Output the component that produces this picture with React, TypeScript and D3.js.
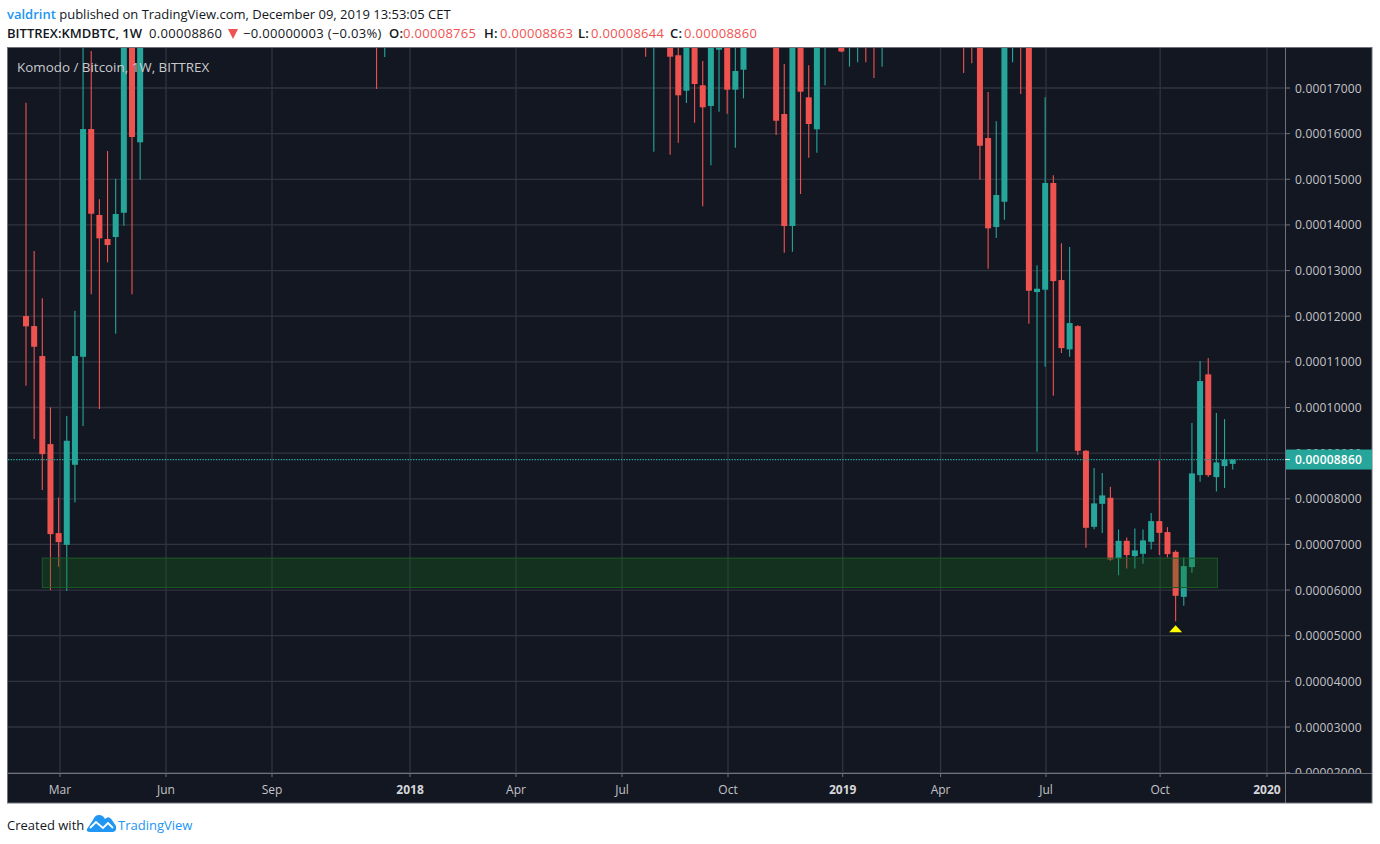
import React from "react";
import * as d3 from "d3";

// Prices are in 1e-8 BTC. Values above the visible pane are estimates for candles cut off by the top edge.
const weeks = [0,1,2,3,4,5,6,7,8,9,10,11,12,13,14,43,44,76,77,79,80,81,82,83,84,85,86,87,88,92,93,94,95,96,97,98,100,101,102,103,104,105,115,116,117,118,119,120,121,122,123,124,125,126,127,128,129,130,131,132,133,134,135,136,137,138,139,140,141,142,143,144,145,146,147,148];
const opens = [12003,11784,11127,9198,7248,6991,8745,11111,16101,14217,13691,13735,14267,18600,15810,18600,18100,18500,18000,18300,17717,16941,18200,17059,16606,17839,18200,16963,17401,18400,16430,13976,18300,16796,16095,18000,18200,18000,18000,18400,18300,18000,18300,18300,18400,15904,13954,14508,18000,18300,18500,12529,12580,14918,12792,11274,11784,9052,7386,7890,8022,6693,7079,6744,6794,7057,7511,7270,6838,5852,6503,8519,10726,8475,8716,8765];
const highs = [16678,13428,12391,10003,8030,9812,12120,18600,17811,14561,15619,15012,18800,19000,19200,19000,18800,18900,18700,18600,18200,18500,18400,17592,18400,18300,18500,18200,18500,18600,17526,18600,18500,17497,18400,18400,18400,18400,18400,18600,18500,18400,18600,18600,18600,16912,16270,18700,18500,18600,18700,13115,16796,15087,13597,13516,11806,9067,8672,8563,8263,7329,7154,7351,7329,7686,8841,7379,6875,6715,9658,11017,11083,9878,9746,8863];
const lows = [10476,9308,8190,5999,6509,5983,7921,9593,12479,9965,13180,11615,13982,12479,14990,16978,17679,17686,15604,15538,15801,16671,16240,14407,15306,16481,16437,15692,16774,15970,13391,13412,14677,15473,15582,17059,17782,17467,17563,17563,17219,17467,17329,17541,14990,13040,13713,14114,17563,16869,11835,9030,10892,10257,11193,11111,8957,6926,7335,7248,6641,6327,6474,6474,6575,6891,6766,6715,5319,5655,6378,8372,8475,8162,8234,8644];
const closes = [11778,11331,8979,7226,7051,9271,11127,16101,14245,13706,13559,14239,18500,15926,19000,18200,18500,18100,18400,17686,16840,18300,17088,16577,18100,18100,16963,17373,18200,16283,13976,18400,16919,16211,18200,18300,17800,18200,18300,18000,17900,18300,17900,17900,15735,13925,14655,18500,18300,17900,12558,12602,14918,12770,11302,11850,9052,7364,7899,8074,6671,7079,6766,6869,7088,7511,7254,6788,5874,6525,8556,10579,8519,8797,8860,8860];

const priceTicks = [17000,16000,15000,14000,13000,12000,11000,10000,9000,8000,7000,6000,5000,4000,3000,2000];
const timeLabels = ["Mar","Jun","Sep","2018","Apr","Jul","Oct","2019","Apr","Jul","Oct","2020"];
const timeWeeks = [4.17,17.17,30.17,47.1,60.1,73.1,86.1,100.17,112.17,125.1,139.1,152.2];

const lastPrice = 8860;
const zoneTop = 6700;
const zoneBottom = 6055;
const zoneStartWeek = 2;
const zoneEndWeek = 146;
const markerWeek = 141;
const markerPrice = 5232;

const UP = "#26a69a";
const DOWN = "#ef5350";
const BG = "#131722";
const GRID = "#30343f";
const FRAME = "#6f727c";
const TXT = "#c3c4c8";
const INK = "#131722";
const FONT = "'Open Sans', sans-serif";

const L = 8, R = 1285, T = 48, B = 773, OUTER_R = 1372, OUTER_B = 803;
const fmt = (v: number) => (v / 1e8).toFixed(8);

export default function App() {
  const x = d3.scaleLinear().domain([0, 148]).range([26, 1232.7]);
  const y = d3.scaleLinear().domain([17000, 3000]).range([88, 727]);
  const candles = weeks.map((w, i) => ({ w, o: opens[i], h: highs[i], l: lows[i], c: closes[i] }));
  const bodyW = 6;
  return (
    <svg width={1380} height={844} style={{ position: "absolute", left: 0, top: 0, background: "#fff", fontFamily: FONT }}>
      <defs>
        <clipPath id="pane"><rect x={L} y={T} width={R - L} height={B - T} /></clipPath>
        <clipPath id="axis"><rect x={R} y={T} width={OUTER_R - R} height={B - T} /></clipPath>
      </defs>
      <text x={7} y={19} fontSize={13}>
        <tspan fill="#2196f3" fontWeight={600}>valdrint</tspan>
        <tspan fill={INK}> published on TradingView.com, December 09, 2019 13:53:05 CET</tspan>
      </text>
      <text x={7} y={38} fontSize={13} fill={INK} fontWeight={600}>BITTREX:KMDBTC, 1W</text>
      <g fontSize={13} letterSpacing={0.3}>
        <text x={149} y={38} fill={INK}>0.00008860</text>
        <text x={243} y={38} fill={INK}>−0.00000003 (−0.03%)</text>
        <text x={389} y={38} fill={INK} fontWeight={600}>O:</text>
        <text x={403} y={38} fill={DOWN}>0.00008765</text>
        <text x={484} y={38} fill={INK} fontWeight={600}>H:</text>
        <text x={500} y={38} fill={DOWN}>0.00008863</text>
        <text x={578} y={38} fill={INK} fontWeight={600}>L:</text>
        <text x={591} y={38} fill={DOWN}>0.00008644</text>
        <text x={670} y={38} fill={INK} fontWeight={600}>C:</text>
        <text x={684} y={38} fill={DOWN}>0.00008860</text>
      </g>
      <path d="M228 29 L238 29 L233 39 Z" fill={DOWN} />

      <rect x={7.5} y={47.5} width={OUTER_R - 7.5} height={OUTER_B - 47.5} fill={BG} stroke={FRAME} />

      <g clipPath="url(#pane)">
        {priceTicks.map((p) => (
          <line key={p} x1={L} x2={R} y1={y(p)} y2={y(p)} stroke={GRID} strokeWidth={1.3} />
        ))}
        {timeWeeks.map((w, i) => (
          <line key={i} x1={x(w)} x2={x(w)} y1={T} y2={B} stroke={GRID} strokeWidth={1.3} />
        ))}
        {candles.map((d) => {
          const col = d.c >= d.o ? UP : DOWN;
          const top = y(Math.max(d.o, d.c));
          const bot = y(Math.min(d.o, d.c));
          return (
            <g key={d.w}>
              <line x1={x(d.w)} x2={x(d.w)} y1={y(d.h)} y2={y(d.l)} stroke={col} strokeWidth={1.1} />
              <rect x={x(d.w) - bodyW / 2} y={top} width={bodyW} height={Math.max(bot - top, 1)} fill={col} />
            </g>
          );
        })}
        <rect
          x={x(zoneStartWeek)}
          y={y(zoneTop)}
          width={x(zoneEndWeek) - x(zoneStartWeek) + 1}
          height={y(zoneBottom) - y(zoneTop)}
          fill="#166a18"
          fillOpacity={0.3}
          stroke="#1a5c25"
          strokeWidth={1}
        />
        <line x1={L} x2={R} y1={y(lastPrice)} y2={y(lastPrice)} stroke={UP} strokeWidth={1.2} strokeDasharray="1.4 1.3" />
        <path d={`M${x(markerWeek)} ${y(markerPrice)} l6.5 7 h-13 Z`} fill="#ffff00" />
        <text x={17} y={72} fontSize={13.4} fill="#c9cacd">Komodo / Bitcoin, 1W, BITTREX</text>
      </g>

      <line x1={L} x2={OUTER_R} y1={B + 0.5} y2={B + 0.5} stroke={FRAME} />
      <line x1={R + 0.5} x2={R + 0.5} y1={T} y2={OUTER_B} stroke={FRAME} />

      {timeWeeks.map((w, i) => (
        <g key={i}>
          <line x1={x(w)} x2={x(w)} y1={B} y2={B + 4} stroke={FRAME} />
          <text
            x={x(w)}
            y={794}
            textAnchor="middle"
            fontSize={12}
            fontWeight={/^\d+$/.test(timeLabels[i]) ? 700 : 400}
            fill={/^\d+$/.test(timeLabels[i]) ? "#d6d7da" : TXT}
          >
            {timeLabels[i]}
          </text>
        </g>
      ))}

      <g clipPath="url(#axis)" letterSpacing={0.2}>
        {priceTicks.map((p) => (
          <g key={p}>
            <line x1={R} x2={R + 5} y1={y(p)} y2={y(p)} stroke={FRAME} />
            <text x={1295} y={y(p) + 4.5} fontSize={12} fill={TXT}>{fmt(p)}</text>
          </g>
        ))}
        <rect x={R + 1} y={y(lastPrice) - 10} width={OUTER_R - R} height={20} fill={UP} />
        <line x1={R} x2={R + 5} y1={y(lastPrice)} y2={y(lastPrice)} stroke="#e8f5f3" />
        <text x={1295} y={y(lastPrice) + 4.5} fontSize={12} fontWeight={600} fill="#fff">{fmt(lastPrice)}</text>
      </g>

      <text x={7} y={830} fontSize={13} fill={INK}>Created with</text>
      <path
        d="M87 829 L93 820 Q95 815 99 815 Q103 815 105 819 Q109 815 112 820 L116 826 Q117 832 112 832 L90 832 Q86 832 87 829 Z"
        fill="#2196f3"
      />
      <path d="M90 828 L96 822 L103 828 L108 823 L113 828" fill="none" stroke="#fff" strokeWidth={1.8} />
      <text x={118} y={830} fontSize={13} fill="#2196f3">TradingView</text>
    </svg>
  );
}
